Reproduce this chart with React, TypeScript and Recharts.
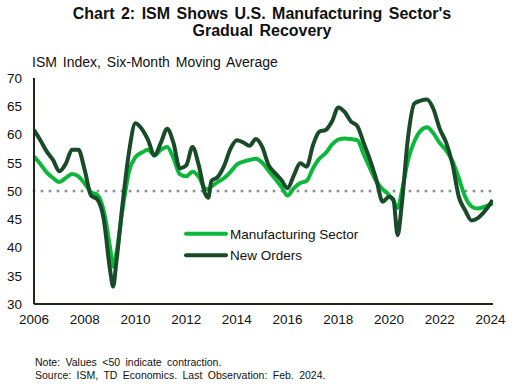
import React from "react";
import { LineChart, Line, XAxis, YAxis, ReferenceLine } from "recharts";

const DATES = [
  2006.0, 2006.25, 2006.5, 2006.75, 2007.0, 2007.25, 2007.5, 2007.75, 2008.0, 2008.25, 2008.5, 2008.75,
  2009.0, 2009.12, 2009.25, 2009.5, 2009.75, 2010.0, 2010.25, 2010.5, 2010.75, 2011.0, 2011.25, 2011.5,
  2011.75, 2012.0, 2012.25, 2012.5, 2012.75, 2012.87, 2013.0, 2013.25, 2013.5, 2013.75, 2014.0, 2014.25,
  2014.5, 2014.75, 2015.0, 2015.25, 2015.5, 2015.75, 2016.0, 2016.25, 2016.5, 2016.75, 2017.0, 2017.25,
  2017.5, 2017.75, 2018.0, 2018.25, 2018.5, 2018.75, 2019.0, 2019.25, 2019.5, 2019.75, 2020.0, 2020.17,
  2020.34, 2020.5, 2020.75, 2021.0, 2021.25, 2021.5, 2021.75, 2022.0, 2022.25, 2022.5, 2022.75, 2023.0,
  2023.25, 2023.5, 2023.75, 2024.0, 2024.08,
];

const MANUFACTURING = [
  56.1, 54.8, 53.3, 52.3, 51.6, 52.3, 53.0, 52.6, 51.3, 49.8, 49.3, 46.5,
  40.0, 36.6, 39.0, 47.0, 53.5, 56.0, 56.8, 57.3, 56.3, 57.3, 57.8, 55.8,
  53.0, 52.6, 53.4, 52.5, 50.4, 50.3, 50.8, 51.6, 52.3, 53.4, 54.7, 55.2,
  55.5, 55.7, 55.0, 53.6, 52.2, 50.8, 49.2, 50.5, 51.4, 51.8, 54.0, 55.7,
  56.7, 58.2, 59.1, 59.3, 59.2, 59.0, 56.5, 54.0, 51.7, 50.3, 49.3, 48.3,
  47.0, 49.8, 55.5, 58.8, 60.7, 61.3, 60.2, 58.5, 57.2, 55.3, 52.3, 49.0,
  47.3, 46.9, 47.2, 47.6, 47.8,
];

const NEW_ORDERS = [
  60.8, 59.0, 57.0, 55.5, 53.5, 54.8, 57.3, 57.3, 53.7, 49.2, 48.5, 45.0,
  36.0, 33.1, 37.5, 48.0, 57.0, 62.0, 61.0, 59.0, 56.3, 58.5, 61.0, 58.5,
  54.0, 54.5, 57.8, 54.5, 49.5, 48.8, 51.8, 52.5, 54.5, 57.5, 59.0, 58.6,
  58.0, 59.2, 57.8, 54.6, 53.2, 52.0, 50.5, 52.8, 54.9, 54.3, 58.1, 60.5,
  60.8, 62.3, 64.8, 64.0, 62.3, 61.5, 58.5, 55.5, 52.0, 48.1, 49.0, 48.5,
  42.2, 47.5, 59.5, 65.5, 66.0, 66.2, 64.5, 61.0, 58.6, 54.8, 49.0, 46.6,
  44.8, 45.2, 46.3, 47.8, 48.4,
];

const X_TICKS = [2006, 2008, 2010, 2012, 2014, 2016, 2018, 2020, 2022, 2024];
const Y_TICKS = [30, 35, 40, 45, 50, 55, 60, 65, 70];

const SERIES_NAMES = ["Manufacturing Sector", "New Orders"];
const TITLE_LINES = ["Chart 2: ISM Shows U.S. Manufacturing Sector's", "Gradual Recovery"];
const SUBTITLE = "ISM Index, Six-Month Moving Average";
const NOTES = [
  "Note: Values <50 indicate contraction.",
  "Source: ISM, TD Economics. Last Observation: Feb. 2024.",
];

const LIGHT = "#0cb83a";
const DARK = "#194a29";
const AXIS = "#1e2a18";
const FONT = "'Liberation Sans', Arial, sans-serif";

const data = DATES.map((d, i) => ({ date: d, mfg: MANUFACTURING[i], orders: NEW_ORDERS[i] }));

const LEGEND_ITEMS = [
  { name: SERIES_NAMES[0], color: LIGHT },
  { name: SERIES_NAMES[1], color: DARK },
];

export default function App() {
  return (
    <div style={{ position: "absolute", left: 0, top: 0, width: 516, height: 386, background: "#fff", fontFamily: FONT }}>
      <LineChart width={516} height={386} data={data} margin={{ top: 78, right: 23, bottom: 52, left: 0 }}>
        <XAxis
          dataKey="date"
          type="number"
          domain={[2006, 2024.1]}
          ticks={X_TICKS}
          allowDataOverflow
          height={30}
          tickSize={0}
          tickMargin={10}
          stroke={AXIS}
          strokeWidth={2}
          tick={{ fill: "#111", fontSize: 13.5, fontFamily: FONT }}
        />
        <YAxis
          type="number"
          domain={[30, 70]}
          ticks={Y_TICKS}
          width={34}
          tickSize={0}
          tickMargin={12}
          stroke={AXIS}
          strokeWidth={2}
          tick={{ fill: "#111", fontSize: 13.5, fontFamily: FONT }}
        />
        <ReferenceLine y={50} stroke="#8f8f8f" strokeWidth={3} strokeDasharray="0 8" strokeLinecap="round" />
        <Line type="monotone" dataKey="mfg" name={SERIES_NAMES[0]} stroke={LIGHT} strokeWidth={4} dot={false} isAnimationActive={false} />
        <Line type="monotone" dataKey="orders" name={SERIES_NAMES[1]} stroke={DARK} strokeWidth={4} dot={false} isAnimationActive={false} />
      </LineChart>
      <svg width={516} height={386} style={{ position: "absolute", left: 0, top: 0, pointerEvents: "none" }}>
        <text x={262} y={19} textAnchor="middle" fontFamily={FONT} fontSize={16} fontWeight="bold" fill="#111" style={{ wordSpacing: 2 }}>
          {TITLE_LINES[0]}
        </text>
        <text x={262} y={36} textAnchor="middle" fontFamily={FONT} fontSize={16} fontWeight="bold" fill="#111" style={{ wordSpacing: 2 }}>
          {TITLE_LINES[1]}
        </text>
        <text x={32} y={67} fontFamily={FONT} fontSize={14} fill="#111" style={{ wordSpacing: 2 }}>
          {SUBTITLE}
        </text>
        {LEGEND_ITEMS.map((it, i) => (
          <g key={it.name}>
            <line x1={186} x2={226} y1={233.7 + i * 21.6} y2={233.7 + i * 21.6} stroke={it.color} strokeWidth={4} strokeLinecap="round" />
            <text x={230} y={238.5 + i * 21.6} fontFamily={FONT} fontSize={13.5} fill="#111">
              {it.name}
            </text>
          </g>
        ))}
        <text x={35} y={366} fontFamily={FONT} fontSize={10.5} fill="#111" style={{ wordSpacing: 2.5 }}>
          {NOTES[0]}
        </text>
        <text x={35} y={379} fontFamily={FONT} fontSize={10.5} fill="#111" style={{ wordSpacing: 2.5 }}>
          {NOTES[1]}
        </text>
      </svg>
    </div>
  );
}
